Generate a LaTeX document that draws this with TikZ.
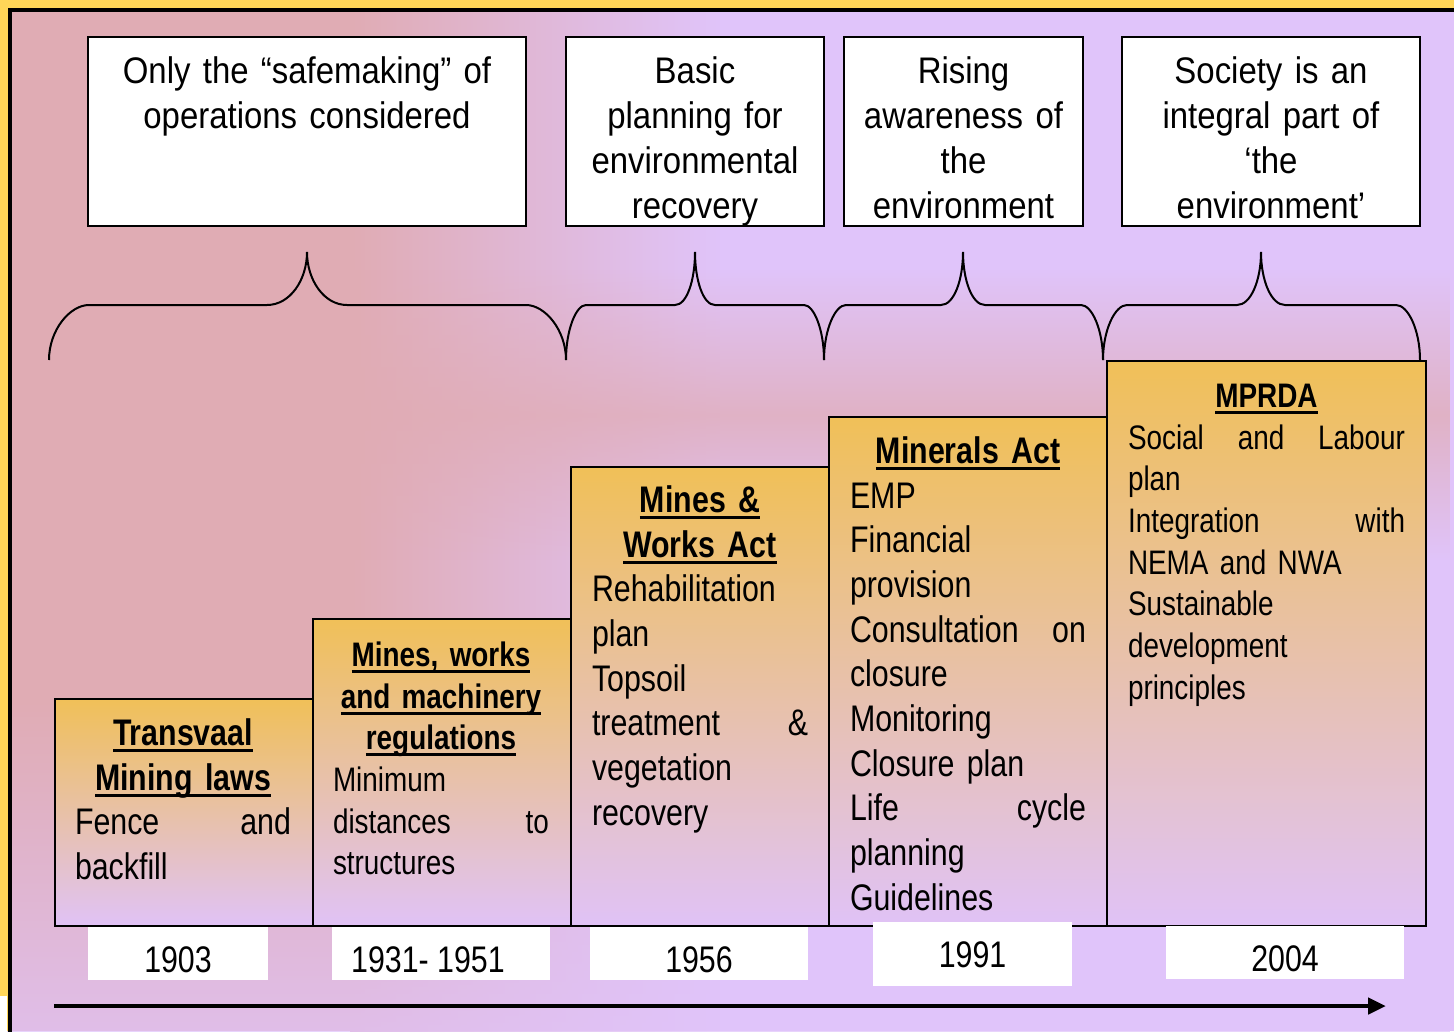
\documentclass[tikz,border=0pt]{standalone}
\usepackage{fontspec}
\setmainfont{Liberation Sans}[FakeStretch=0.82]
\newfontfamily\notefont{Liberation Sans}[FakeStretch=0.89]
\usetikzlibrary{arrows.meta,fadings}

\definecolor{bgrose}{RGB}{224,172,180}
\definecolor{bglilac}{RGB}{224,196,250}
\definecolor{lawgold}{RGB}{240,192,88}
\definecolor{lawlilac}{RGB}{224,194,246}
\definecolor{frameyellow}{RGB}{255,214,88}

\tikzfading[name=fadeeast, left color=transparent!0, right color=transparent!100]
\tikzfading[name=fadeband, top color=transparent!100, bottom color=transparent!100, middle color=transparent!25]

\newcommand{\capstrut}{\rule{0pt}{32pt}}
\newcommand{\actline}[1]{\leavevmode\setbox0=\hbox{#1}\rlap{\rule[-6.5pt]{\wd0}{3pt}}\box0}

\tikzset{every picture/.style={line width=0.75pt}}

\begin{document}
\begin{tikzpicture}[x=1pt,y=1pt,yscale=-1,xscale=1,
	notebox/.style={draw,fill=white,line width=2,inner sep=0pt},
	notetext/.style={font=\notefont\fontsize{37}{45}\selectfont,align=center,inner sep=0pt,anchor=north},
	lawbox/.style={draw,line width=2,inner sep=0pt,anchor=north west,top color=lawgold,bottom color=lawlilac},
	lawtext/.style={font=\fontsize{37}{44.7}\selectfont,align=left,inner sep=0pt,anchor=north},
	lawsmall/.style={lawtext,font=\fontsize{34}{41.7}\selectfont},
	yearbox/.style={fill=white,inner sep=0pt,font=\fontsize{37}{44}\selectfont,text height=38pt,text depth=0pt},
	brace/.style={line width=2}]
	\useasboundingbox (0,0) rectangle (1454,1031);
	
	%Background
	\fill [bglilac] (0,0) rectangle (1454,1031);
	\fill [bgrose] (8,8) rectangle (350,1031);
	\fill [bgrose,path fading=fadeeast] (350,8) rectangle (720,1031);
	\fill [bgrose,path fading=fadeband] (8,270) rectangle (1454,560);
	\fill [bglilac,path fading=fadeband] (8,700) rectangle (1454,1362);
	%Frame
	\fill [frameyellow] (0,0) rectangle (8,1031);
	\fill [frameyellow] (0,0) rectangle (1454,8);
	\fill [white] (0,996) rectangle (7,1031);
	\draw [line width=4] (9.5,1040) -- (9.5,10) -- (1460,10);
	
	%Shape: Rectangle [notes]
	\node [notebox,minimum width=438,minimum height=189] (safe) at (307,131.5) {};
	\node [notebox,minimum width=258,minimum height=189] (basic) at (695,131.5) {};
	\node [notebox,minimum width=239,minimum height=189] (rising) at (963.5,131.5) {};
	\node [notebox,minimum width=298,minimum height=189] (society) at (1271,131.5) {};
	% Text Node
	\node [notetext,text width=428] (safetxt) at (307,51) {\capstrut Only the “safemaking” of\\operations considered};
	% Text Node
	\node [notetext,text width=250] (basictxt) at (695,51) {\capstrut Basic\\planning for\\environmental\\recovery};
	% Text Node
	\node [notetext,text width=231] (risingtxt) at (963.5,51) {\capstrut Rising\\awareness of\\the\\environment};
	% Text Node
	\node [notetext,text width=290] (societytxt) at (1271,51) {\capstrut Society is an\\integral part of\\‘the\\environment’};
	
	%Shape: Brace
	\draw [brace] (49,360) .. controls (49,330) and (70,305) .. (89,305) -- (267,305) .. controls (290,305) and (307,280) .. (307,252) .. controls (307,280) and (324,305) .. (347,305) -- (526,305) .. controls (545,305) and (566,330) .. (566,360) ;
	%Shape: Brace
	\draw [brace] (566,360) .. controls (566,330) and (576,305) .. (586,305) -- (675,305) .. controls (687,305) and (695,280) .. (695,252) .. controls (695,280) and (703,305) .. (715,305) -- (804,305) .. controls (814,305) and (824,330) .. (824,360) ;
	%Shape: Brace
	\draw [brace] (824,360) .. controls (824,330) and (835,305) .. (846,305) -- (941,305) .. controls (954,305) and (963,280) .. (963,252) .. controls (963,280) and (972,305) .. (985,305) -- (1081,305) .. controls (1092,305) and (1103,330) .. (1103,360) ;
	%Shape: Brace
	\draw [brace] (1103,360) .. controls (1103,330) and (1115,305) .. (1127,305) -- (1237,305) .. controls (1251,305) and (1261,280) .. (1261,252) .. controls (1261,280) and (1271,305) .. (1285,305) -- (1396,305) .. controls (1408,305) and (1420,330) .. (1420,360) ;
	
	%Shape: Rectangle [acts]
	\node [lawbox,minimum width=258,minimum height=227] (transvaal) at (54,698) {};
	\node [lawbox,minimum width=258,minimum height=307] (machinery) at (312,618) {};
	\node [lawbox,minimum width=258,minimum height=459] (works) at (570,466) {};
	\node [lawbox,minimum width=278,minimum height=509] (minerals) at (828,416) {};
	\node [lawbox,minimum width=319,minimum height=565] (mprda) at (1106,360) {};
	% Text Node
	\node [lawtext,text width=216] (transvaaltxt) at (183,713) {{\centering\bfseries\capstrut\actline{Transvaal}\\\actline{Mining laws}\par}
		Fence\hfill and\\backfill};
	% Text Node
	\node [lawsmall,text width=216] (machinerytxt) at (441,634) {{\centering\bfseries\capstrut\actline{Mines, works}\\\actline{and machinery}\\\actline{regulations}\par}
		Minimum\\distances\hfill to\\structures};
	% Text Node
	\node [lawtext,text width=216] (workstxt) at (700,480) {{\centering\bfseries\capstrut\actline{Mines \&}\\\actline{Works Act}\par}
		Rehabilitation\\plan\\Topsoil\\treatment\hfill \&\\vegetation\\recovery};
	% Text Node
	\node [lawtext,text width=236] (mineralstxt) at (968,431) {{\centering\bfseries\capstrut\actline{Minerals Act}\par}
		EMP\\Financial\\provision\\Consultation\hfill on\\closure\\Monitoring\\Closure plan\\Life\hfill cycle\\planning\\Guidelines};
	% Text Node
	\node [lawsmall,text width=277] (mprdatxt) at (1266.5,375) {{\centering\bfseries\capstrut\actline{MPRDA}\par}
		Social\hfill and\hfill Labour\\plan\\Integration\hfill with\\NEMA and NWA\\Sustainable\\development\\principles};
	
	%Shape: Rectangle [years]
	\node [yearbox,minimum width=180,minimum height=53] (y1903) at (178,953) {1903};
	\node [yearbox,minimum width=218,minimum height=53] (y1931) at (441,953) {1931- 1951\kern26pt};
	\node [yearbox,minimum width=218,minimum height=53] (y1956) at (699,953) {1956};
	\node [yearbox,minimum width=199,minimum height=64,text height=26pt] (y1991) at (972.5,954) {1991};
	\node [yearbox,minimum width=238,minimum height=53] (y2004) at (1285,952.5) {2004};
	
	%Straight Lines [timeline]
	\coordinate (tstart) at (54,1006);
	\coordinate (tend) at (1386,1006);
	\draw [line width=4.5,-{Triangle[length=18pt,width=16pt]}] (tstart) -- (tend) ;
	
\end{tikzpicture}
\end{document}
